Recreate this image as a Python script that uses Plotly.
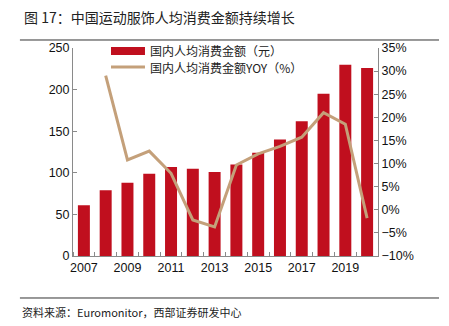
import plotly.graph_objects as go

years = list(range(2007, 2021))
spend = [61, 79, 88, 99, 107, 105, 101, 110, 124, 140, 162, 195, 230, 226]
yoy_years = list(range(2008, 2021))
yoy = [29.0, 10.8, 12.7, 7.9, -2.2, -3.7, 9.7, 12.1, 13.7, 15.7, 21.0, 18.5, -1.8]
x_tick_labels = [2007, 2009, 2011, 2013, 2015, 2017, 2019]
bar_name = "国内人均消费金额（元）"
line_name = "国内人均消费金额YOY（%）"

RED = "#C00F1E"
TAN = "#C4A07A"
AX = "#8a8a8a"
FONT = "Liberation Sans, Noto Sans CJK SC, sans-serif"
CJK = "Noto Sans CJK SC, sans-serif"

fig = go.Figure()
fig.add_trace(go.Bar(x=years, y=spend, name=bar_name,
                     marker=dict(color=RED, line=dict(width=0)), yaxis="y"))
fig.add_trace(go.Scatter(x=yoy_years, y=yoy, name=line_name,
                         mode="lines", line=dict(color=TAN, width=3), yaxis="y2"))

fig.update_layout(
    width=449, height=326,
    margin=dict(l=73, r=71, t=48, b=70),
    paper_bgcolor="white", plot_bgcolor="white",
    font=dict(family=FONT, size=12.5, color="#111"),
    bargap=0.45,
    showlegend=False,
    xaxis=dict(range=[2006.5, 2020.5], tickmode="array", tickvals=x_tick_labels,
               ticktext=[str(v) for v in x_tick_labels], ticks="",
               showline=True, linecolor=AX, linewidth=1, showgrid=False, zeroline=False,
               minor=dict(ticks="inside", tick0=2006.5, dtick=1, ticklen=4, tickcolor=AX, showgrid=False)),
    yaxis=dict(range=[0, 250], dtick=50, ticks="inside", ticklen=4, tickcolor=AX,
               showline=True, linecolor=AX, linewidth=1, showgrid=False, zeroline=False),
    yaxis2=dict(range=[-10, 35], dtick=5, overlaying="y", side="right", ticksuffix="%",
                ticks="inside", ticklen=4, tickcolor=AX,
                showline=True, linecolor=AX, linewidth=1, showgrid=False, zeroline=False),
)

# manual legend
fig.add_shape(type="rect", xref="paper", yref="paper", x0=0.1246, x1=0.236, y0=0.966, y1=1.0048,
              fillcolor=RED, line=dict(width=0))
fig.add_shape(type="line", xref="paper", yref="paper", x0=0.1246, x1=0.236, y0=0.909, y1=0.909,
              line=dict(color=TAN, width=3))
fig.add_annotation(text=bar_name, xref="paper", yref="paper", x=0.246, y=0.9856,
                   xanchor="left", yanchor="middle", showarrow=False,
                   font=dict(size=12, color="#222", family=CJK))
fig.add_annotation(text=line_name, xref="paper", yref="paper", x=0.246, y=0.904,
                   xanchor="left", yanchor="middle", showarrow=False,
                   font=dict(size=12, color="#222", family=CJK))

fig.add_annotation(text="图 17：中国运动服饰人均消费金额持续增长", xref="paper", yref="paper",
                   x=-0.167, y=1.0, yshift=31, xanchor="left", yanchor="middle", showarrow=False,
                   font=dict(size=14, color="#222", family=CJK))
fig.add_annotation(text="资料来源：Euromonitor，西部证券研发中心", xref="paper", yref="paper",
                   x=-0.174, y=0, yshift=-56, xanchor="left", yanchor="middle", showarrow=False,
                   font=dict(size=11, color="#222", family=CJK))
fig.add_shape(type="line", xref="paper", yref="paper", x0=-0.174, x1=1.2, y0=1.0385, y1=1.0385,
              line=dict(color="#333", width=1))
fig.add_shape(type="line", xref="paper", yref="paper", x0=-0.174, x1=1.2, y0=-0.2019, y1=-0.2019,
              line=dict(color="#333", width=1))

fig.write_html("out.html")
